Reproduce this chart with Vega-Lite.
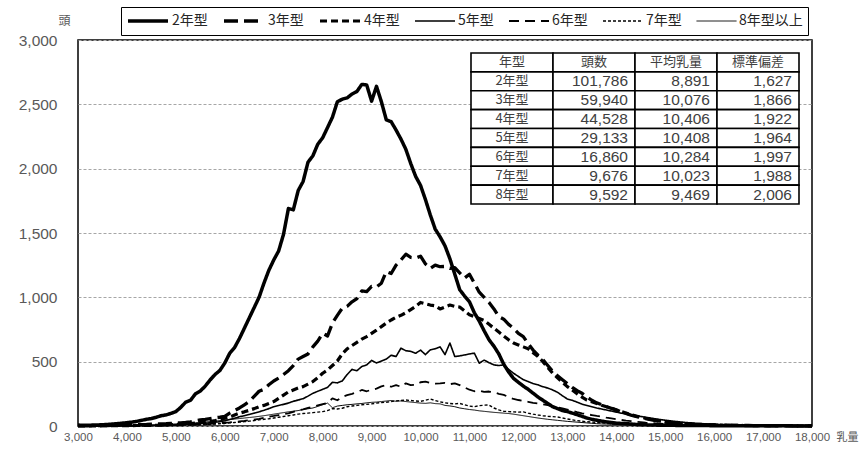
{
"$schema": "https://vega.github.io/schema/vega-lite/v6.json",
"width": 734, "height": 386,
"autosize": {"type": "none"},
"padding": {"left": 78, "top": 40, "right": 49, "bottom": 23},
"background": "white",
"config": {"view": {"stroke": "#000", "strokeWidth": 1.5}, "font": "Noto Sans CJK JP"},
"datasets": {
"curves": [
{"乳量":3000,"2年型":8,"3年型":2,"4年型":1,"5年型":1,"6年型":0,"7年型":0,"8年型以上":1},
{"乳量":3100,"2年型":5,"3年型":2,"4年型":1,"5年型":0,"6年型":0,"7年型":0,"8年型以上":1},
{"乳量":3200,"2年型":6,"3年型":2,"4年型":1,"5年型":1,"6年型":0,"7年型":0,"8年型以上":1},
{"乳量":3300,"2年型":7,"3年型":3,"4年型":1,"5年型":1,"6年型":1,"7年型":0,"8年型以上":1},
{"乳量":3400,"2年型":8,"3年型":3,"4年型":1,"5年型":1,"6年型":1,"7年型":0,"8年型以上":2},
{"乳量":3500,"2年型":10,"3年型":4,"4年型":2,"5年型":1,"6年型":1,"7年型":1,"8年型以上":2},
{"乳量":3600,"2年型":12,"3年型":4,"4年型":2,"5年型":2,"6年型":1,"7年型":1,"8年型以上":2},
{"乳量":3700,"2年型":15,"3年型":5,"4年型":2,"5年型":2,"6年型":1,"7年型":1,"8年型以上":3},
{"乳量":3800,"2年型":18,"3年型":6,"4年型":2,"5年型":2,"6年型":1,"7年型":1,"8年型以上":3},
{"乳量":3900,"2年型":22,"3年型":7,"4年型":3,"5年型":3,"6年型":2,"7年型":1,"8年型以上":4},
{"乳量":4000,"2年型":26,"3年型":8,"4年型":3,"5年型":3,"6年型":2,"7年型":2,"8年型以上":4},
{"乳量":4100,"2年型":30,"3年型":9,"4年型":3,"5年型":3,"6年型":2,"7年型":2,"8年型以上":5},
{"乳量":4200,"2年型":36,"3年型":10,"4年型":4,"5年型":4,"6年型":2,"7年型":2,"8年型以上":5},
{"乳量":4300,"2年型":44,"3年型":11,"4年型":4,"5年型":4,"6年型":3,"7年型":2,"8年型以上":6},
{"乳量":4400,"2年型":52,"3年型":12,"4年型":5,"5年型":5,"6年型":3,"7年型":3,"8年型以上":7},
{"乳量":4500,"2年型":58,"3年型":14,"4年型":5,"5年型":5,"6年型":3,"7年型":3,"8年型以上":8},
{"乳量":4600,"2年型":68,"3年型":16,"4年型":6,"5年型":6,"6年型":4,"7年型":3,"8年型以上":9},
{"乳量":4700,"2年型":80,"3年型":17,"4年型":7,"5年型":7,"6年型":4,"7年型":4,"8年型以上":10},
{"乳量":4800,"2年型":86,"3年型":18,"4年型":8,"5年型":7,"6年型":4,"7年型":4,"8年型以上":12},
{"乳量":4900,"2年型":98,"3年型":20,"4年型":10,"5年型":8,"6年型":5,"7年型":5,"8年型以上":14},
{"乳量":5000,"2年型":112,"3年型":22,"4年型":12,"5年型":9,"6年型":5,"7年型":6,"8年型以上":16},
{"乳量":5100,"2年型":145,"3年型":25,"4年型":14,"5年型":11,"6年型":6,"7年型":6,"8年型以上":18},
{"乳量":5200,"2年型":185,"3年型":28,"4年型":16,"5年型":13,"6年型":7,"7年型":7,"8年型以上":20},
{"乳量":5300,"2年型":200,"3年型":32,"4年型":19,"5年型":15,"6年型":8,"7年型":8,"8年型以上":22},
{"乳量":5400,"2年型":250,"3年型":40,"4年型":22,"5年型":17,"6年型":10,"7年型":9,"8年型以上":25},
{"乳量":5500,"2年型":272,"3年型":47,"4年型":26,"5年型":19,"6年型":12,"7年型":10,"8年型以上":28},
{"乳量":5600,"2年型":310,"3年型":52,"4年型":30,"5年型":22,"6年型":14,"7年型":12,"8年型以上":31},
{"乳量":5700,"2年型":358,"3年型":58,"4年型":35,"5年型":25,"6年型":16,"7年型":14,"8年型以上":34},
{"乳量":5800,"2年型":400,"3年型":64,"4年型":42,"5年型":29,"6年型":19,"7年型":16,"8年型以上":38},
{"乳量":5900,"2年型":432,"3年型":68,"4年型":50,"5年型":33,"6年型":22,"7年型":18,"8年型以上":42},
{"乳量":6000,"2年型":490,"3年型":74,"4年型":60,"5年型":40,"6年型":25,"7年型":20,"8年型以上":46},
{"乳量":6100,"2年型":565,"3年型":100,"4年型":70,"5年型":50,"6年型":28,"7年型":24,"8年型以上":50},
{"乳量":6200,"2年型":610,"3年型":120,"4年型":85,"5年型":60,"6年型":32,"7年型":27,"8年型以上":54},
{"乳量":6300,"2年型":680,"3年型":140,"4年型":100,"5年型":72,"6年型":36,"7年型":30,"8年型以上":58},
{"乳量":6400,"2年型":760,"3年型":165,"4年型":110,"5年型":80,"6年型":40,"7年型":34,"8年型以上":62},
{"乳量":6500,"2年型":840,"3年型":190,"4年型":122,"5年型":90,"6年型":45,"7年型":38,"8年型以上":66},
{"乳量":6600,"2年型":920,"3年型":230,"4年型":135,"5年型":100,"6年型":50,"7年型":42,"8年型以上":70},
{"乳量":6700,"2年型":1000,"3年型":270,"4年型":150,"5年型":110,"6年型":56,"7年型":48,"8年型以上":75},
{"乳量":6800,"2年型":1110,"3年型":285,"4年型":160,"5年型":122,"6年型":63,"7年型":52,"8年型以上":80},
{"乳量":6900,"2年型":1210,"3年型":320,"4年型":175,"5年型":135,"6年型":72,"7年型":56,"8年型以上":86},
{"乳量":7000,"2年型":1290,"3年型":350,"4年型":190,"5年型":150,"6年型":78,"7年型":62,"8年型以上":92},
{"乳量":7100,"2年型":1360,"3年型":372,"4年型":215,"5年型":160,"6年型":85,"7年型":68,"8年型以上":98},
{"乳量":7200,"2年型":1490,"3年型":400,"4年型":240,"5年型":168,"6年型":92,"7年型":74,"8年型以上":104},
{"乳量":7300,"2年型":1690,"3年型":430,"4年型":265,"5年型":178,"6年型":99,"7年型":80,"8年型以上":110},
{"乳量":7400,"2年型":1680,"3年型":470,"4年型":280,"5年型":192,"6年型":110,"7年型":86,"8年型以上":115},
{"乳量":7500,"2年型":1830,"3年型":520,"4年型":295,"5年型":202,"6年型":122,"7年型":92,"8年型以上":120},
{"乳量":7600,"2年型":1900,"3年型":540,"4年型":306,"5年型":212,"6年型":130,"7年型":97,"8年型以上":128},
{"乳量":7700,"2年型":2050,"3年型":560,"4年型":325,"5年型":232,"6年型":140,"7年型":100,"8年型以上":134},
{"乳量":7800,"2年型":2100,"3年型":615,"4年型":345,"5年型":254,"6年型":150,"7年型":104,"8年型以上":140},
{"乳量":7900,"2年型":2190,"3年型":660,"4年型":375,"5年型":270,"6年型":160,"7年型":108,"8年型以上":152},
{"乳量":8000,"2年型":2240,"3年型":720,"4年型":410,"5年型":285,"6年型":170,"7年型":112,"8年型以上":165},
{"乳量":8100,"2年型":2320,"3年型":700,"4年型":435,"5年型":300,"6年型":180,"7年型":120,"8年型以上":178},
{"乳量":8200,"2年型":2400,"3年型":800,"4年型":470,"5年型":340,"6年型":215,"7年型":135,"8年型以上":142},
{"乳量":8300,"2年型":2520,"3年型":860,"4年型":505,"5年型":335,"6年型":200,"7年型":132,"8年型以上":155},
{"乳量":8400,"2年型":2540,"3年型":915,"4年型":560,"5年型":350,"6年型":225,"7年型":138,"8年型以上":160},
{"乳量":8500,"2年型":2550,"3年型":930,"4年型":600,"5年型":400,"6年型":240,"7年型":150,"8年型以上":165},
{"乳量":8600,"2年型":2580,"3年型":965,"4年型":625,"5年型":440,"6年型":250,"7年型":155,"8年型以上":168},
{"乳量":8700,"2年型":2600,"3年型":990,"4年型":650,"5年型":430,"6年型":262,"7年型":160,"8年型以上":172},
{"乳量":8800,"2年型":2655,"3年型":1050,"4年型":675,"5年型":462,"6年型":280,"7年型":165,"8年型以上":175},
{"乳量":8900,"2年型":2650,"3年型":1045,"4年型":695,"5年型":475,"6年型":270,"7年型":168,"8年型以上":180},
{"乳量":9000,"2年型":2525,"3年型":1085,"4年型":720,"5年型":510,"6年型":282,"7年型":172,"8年型以上":184},
{"乳量":9100,"2年型":2640,"3年型":1080,"4年型":745,"5年型":490,"6年型":290,"7年型":178,"8年型以上":186},
{"乳量":9200,"2年型":2520,"3年型":1110,"4年型":772,"5年型":505,"6年型":308,"7年型":182,"8年型以上":190},
{"乳量":9300,"2年型":2380,"3年型":1200,"4年型":800,"5年型":520,"6年型":318,"7年型":185,"8年型以上":194},
{"乳量":9400,"2年型":2365,"3年型":1185,"4年型":824,"5年型":550,"6年型":305,"7年型":190,"8年型以上":198},
{"乳量":9500,"2年型":2300,"3年型":1250,"4年型":845,"5年型":540,"6年型":318,"7年型":195,"8年型以上":192},
{"乳量":9600,"2年型":2230,"3年型":1290,"4年型":860,"5年型":605,"6年型":305,"7年型":198,"8年型以上":195},
{"乳量":9700,"2年型":2150,"3年型":1335,"4年型":880,"5年型":585,"6年型":332,"7年型":202,"8年型以上":190},
{"乳量":9800,"2年型":2040,"3年型":1310,"4年型":905,"5年型":580,"6年型":318,"7年型":198,"8年型以上":186},
{"乳量":9900,"2年型":1940,"3年型":1305,"4年型":930,"5年型":565,"6年型":320,"7年型":194,"8年型以上":182},
{"乳量":10000,"2年型":1870,"3年型":1320,"4年型":960,"5年型":590,"6年型":340,"7年型":192,"8年型以上":178},
{"乳量":10100,"2年型":1760,"3年型":1260,"4年型":950,"5年型":555,"6年型":345,"7年型":200,"8年型以上":176},
{"乳量":10200,"2年型":1640,"3年型":1225,"4年型":940,"5年型":592,"6年型":335,"7年型":210,"8年型以上":180},
{"乳量":10300,"2年型":1530,"3年型":1250,"4年型":935,"5年型":600,"6年型":330,"7年型":198,"8年型以上":174},
{"乳量":10400,"2年型":1470,"3年型":1238,"4年型":910,"5年型":615,"6年型":332,"7年型":188,"8年型以上":172},
{"乳量":10500,"2年型":1400,"3年型":1240,"4年型":925,"5年型":555,"6年型":335,"7年型":180,"8年型以上":160},
{"乳量":10600,"2年型":1300,"3年型":1225,"4年型":940,"5年型":645,"6年型":325,"7年型":175,"8年型以上":156},
{"乳量":10700,"2年型":1180,"3年型":1230,"4年型":930,"5年型":540,"6年型":332,"7年型":172,"8年型以上":150},
{"乳量":10800,"2年型":1060,"3年型":1190,"4年型":925,"5年型":545,"6年型":318,"7年型":176,"8年型以上":140},
{"乳量":10900,"2年型":1010,"3年型":1150,"4年型":895,"5年型":552,"6年型":300,"7年型":165,"8年型以上":134},
{"乳量":11000,"2年型":965,"3年型":1180,"4年型":865,"5年型":560,"6年型":282,"7年型":155,"8年型以上":128},
{"乳量":11100,"2年型":880,"3年型":1110,"4年型":850,"5年型":566,"6年型":270,"7年型":150,"8年型以上":124},
{"乳量":11200,"2年型":815,"3年型":1040,"4年型":835,"5年型":488,"6年型":275,"7年型":158,"8年型以上":118},
{"乳量":11300,"2年型":740,"3年型":1000,"4年型":820,"5年型":512,"6年型":265,"7年型":162,"8年型以上":114},
{"乳量":11400,"2年型":670,"3年型":960,"4年型":790,"5年型":492,"6年型":268,"7年型":163,"8年型以上":110},
{"乳量":11500,"2年型":620,"3年型":910,"4年型":760,"5年型":475,"6年型":262,"7年型":140,"8年型以上":106},
{"乳量":11600,"2年型":560,"3年型":850,"4年型":730,"5年型":470,"6年型":250,"7年型":125,"8年型以上":103},
{"乳量":11700,"2年型":480,"3年型":830,"4年型":700,"5年型":475,"6年型":242,"7年型":115,"8年型以上":100},
{"乳量":11800,"2年型":420,"3年型":790,"4年型":670,"5年型":440,"6年型":225,"7年型":112,"8年型以上":97},
{"乳量":11900,"2年型":370,"3年型":760,"4年型":645,"5年型":410,"6年型":210,"7年型":110,"8年型以上":92},
{"乳量":12000,"2年型":340,"3年型":720,"4年型":630,"5年型":385,"6年型":202,"7年型":108,"8年型以上":86},
{"乳量":12100,"2年型":310,"3年型":695,"4年型":615,"5年型":360,"6年型":195,"7年型":110,"8年型以上":80},
{"乳量":12200,"2年型":285,"3年型":640,"4年型":600,"5年型":345,"6年型":188,"7年型":100,"8年型以上":74},
{"乳量":12300,"2年型":255,"3年型":590,"4年型":570,"5年型":330,"6年型":180,"7年型":92,"8年型以上":68},
{"乳量":12400,"2年型":225,"3年型":550,"4年型":540,"5年型":320,"6年型":175,"7年型":85,"8年型以上":62},
{"乳量":12500,"2年型":200,"3年型":515,"4年型":500,"5年型":305,"6年型":168,"7年型":80,"8年型以上":57},
{"乳量":12600,"2年型":175,"3年型":470,"4年型":455,"5年型":295,"6年型":162,"7年型":76,"8年型以上":52},
{"乳量":12700,"2年型":150,"3年型":425,"4年型":410,"5年型":280,"6年型":152,"7年型":73,"8年型以上":48},
{"乳量":12800,"2年型":135,"3年型":390,"4年型":375,"5年型":262,"6年型":145,"7年型":70,"8年型以上":44},
{"乳量":12900,"2年型":120,"3年型":360,"4年型":340,"5年型":235,"6年型":137,"7年型":62,"8年型以上":40},
{"乳量":13000,"2年型":112,"3年型":330,"4年型":306,"5年型":210,"6年型":128,"7年型":55,"8年型以上":36},
{"乳量":13100,"2年型":100,"3年型":300,"4年型":280,"5年型":200,"6年型":118,"7年型":48,"8年型以上":33},
{"乳量":13200,"2年型":88,"3年型":275,"4年型":250,"5年型":185,"6年型":108,"7年型":42,"8年型以上":30},
{"乳量":13300,"2年型":75,"3年型":255,"4年型":225,"5年型":170,"6年型":99,"7年型":37,"8年型以上":27},
{"乳量":13400,"2年型":62,"3年型":225,"4年型":202,"5年型":160,"6年型":92,"7年型":33,"8年型以上":24},
{"乳量":13500,"2年型":52,"3年型":200,"4年型":188,"5年型":150,"6年型":85,"7年型":30,"8年型以上":21},
{"乳量":13600,"2年型":45,"3年型":180,"4年型":175,"5年型":140,"6年型":78,"7年型":27,"8年型以上":18},
{"乳量":13700,"2年型":38,"3年型":165,"4年型":162,"5年型":132,"6年型":72,"7年型":25,"8年型以上":16},
{"乳量":13800,"2年型":32,"3年型":150,"4年型":150,"5年型":124,"6年型":65,"7年型":22,"8年型以上":15},
{"乳量":13900,"2年型":27,"3年型":137,"4年型":138,"5年型":116,"6年型":59,"7年型":20,"8年型以上":13},
{"乳量":14000,"2年型":22,"3年型":125,"4年型":125,"5年型":108,"6年型":53,"7年型":18,"8年型以上":12},
{"乳量":14100,"2年型":20,"3年型":110,"4年型":112,"5年型":100,"6年型":47,"7年型":16,"8年型以上":10},
{"乳量":14200,"2年型":18,"3年型":97,"4年型":100,"5年型":93,"6年型":42,"7年型":14,"8年型以上":9},
{"乳量":14300,"2年型":16,"3年型":85,"4年型":88,"5年型":86,"6年型":38,"7年型":13,"8年型以上":8},
{"乳量":14400,"2年型":12,"3年型":75,"4年型":78,"5年型":80,"6年型":34,"7年型":12,"8年型以上":7},
{"乳量":14500,"2年型":10,"3年型":65,"4年型":68,"5年型":74,"6年型":30,"7年型":11,"8年型以上":6},
{"乳量":14600,"2年型":9,"3年型":57,"4年型":60,"5年型":68,"6年型":26,"7年型":10,"8年型以上":6},
{"乳量":14700,"2年型":8,"3年型":50,"4年型":52,"5年型":62,"6年型":23,"7年型":9,"8年型以上":5},
{"乳量":14800,"2年型":7,"3年型":42,"4年型":45,"5年型":56,"6年型":20,"7年型":8,"8年型以上":5},
{"乳量":14900,"2年型":6,"3年型":36,"4年型":38,"5年型":50,"6年型":18,"7年型":7,"8年型以上":4},
{"乳量":15000,"2年型":6,"3年型":30,"4年型":32,"5年型":45,"6年型":16,"7年型":7,"8年型以上":4},
{"乳量":15100,"2年型":5,"3年型":26,"4年型":28,"5年型":40,"6年型":14,"7年型":6,"8年型以上":3},
{"乳量":15200,"2年型":5,"3年型":22,"4年型":24,"5年型":36,"6年型":12,"7年型":5,"8年型以上":3},
{"乳量":15300,"2年型":4,"3年型":19,"4年型":20,"5年型":32,"6年型":10,"7年型":5,"8年型以上":3},
{"乳量":15400,"2年型":4,"3年型":16,"4年型":18,"5年型":28,"6年型":9,"7年型":4,"8年型以上":2},
{"乳量":15500,"2年型":4,"3年型":14,"4年型":15,"5年型":25,"6年型":8,"7年型":4,"8年型以上":2},
{"乳量":15600,"2年型":3,"3年型":12,"4年型":13,"5年型":22,"6年型":7,"7年型":3,"8年型以上":2},
{"乳量":15700,"2年型":3,"3年型":11,"4年型":12,"5年型":19,"6年型":6,"7年型":3,"8年型以上":2},
{"乳量":15800,"2年型":3,"3年型":10,"4年型":10,"5年型":17,"6年型":5,"7年型":3,"8年型以上":1},
{"乳量":15900,"2年型":3,"3年型":9,"4年型":9,"5年型":15,"6年型":4,"7年型":2,"8年型以上":1},
{"乳量":16000,"2年型":2,"3年型":8,"4年型":8,"5年型":13,"6年型":4,"7年型":2,"8年型以上":1},
{"乳量":16100,"2年型":2,"3年型":7,"4年型":7,"5年型":11,"6年型":3,"7年型":2,"8年型以上":1},
{"乳量":16200,"2年型":2,"3年型":6,"4年型":6,"5年型":10,"6年型":3,"7年型":2,"8年型以上":1},
{"乳量":16300,"2年型":2,"3年型":6,"4年型":6,"5年型":9,"6年型":3,"7年型":1,"8年型以上":1},
{"乳量":16400,"2年型":2,"3年型":5,"4年型":5,"5年型":8,"6年型":2,"7年型":1,"8年型以上":1},
{"乳量":16500,"2年型":2,"3年型":5,"4年型":5,"5年型":7,"6年型":2,"7年型":1,"8年型以上":1},
{"乳量":16600,"2年型":1,"3年型":4,"4年型":4,"5年型":6,"6年型":2,"7年型":1,"8年型以上":0},
{"乳量":16700,"2年型":1,"3年型":4,"4年型":4,"5年型":5,"6年型":2,"7年型":1,"8年型以上":0},
{"乳量":16800,"2年型":1,"3年型":3,"4年型":3,"5年型":5,"6年型":2,"7年型":1,"8年型以上":0},
{"乳量":16900,"2年型":1,"3年型":3,"4年型":3,"5年型":4,"6年型":1,"7年型":1,"8年型以上":0},
{"乳量":17000,"2年型":1,"3年型":3,"4年型":3,"5年型":4,"6年型":1,"7年型":1,"8年型以上":0},
{"乳量":17100,"2年型":1,"3年型":2,"4年型":2,"5年型":3,"6年型":1,"7年型":0,"8年型以上":0},
{"乳量":17200,"2年型":1,"3年型":2,"4年型":2,"5年型":3,"6年型":1,"7年型":0,"8年型以上":0},
{"乳量":17300,"2年型":1,"3年型":2,"4年型":2,"5年型":3,"6年型":1,"7年型":0,"8年型以上":0},
{"乳量":17400,"2年型":1,"3年型":2,"4年型":2,"5年型":2,"6年型":1,"7年型":0,"8年型以上":0},
{"乳量":17500,"2年型":1,"3年型":2,"4年型":2,"5年型":2,"6年型":1,"7年型":0,"8年型以上":0},
{"乳量":17600,"2年型":1,"3年型":1,"4年型":1,"5年型":2,"6年型":1,"7年型":0,"8年型以上":0},
{"乳量":17700,"2年型":0,"3年型":1,"4年型":1,"5年型":2,"6年型":0,"7年型":0,"8年型以上":0},
{"乳量":17800,"2年型":0,"3年型":1,"4年型":1,"5年型":1,"6年型":0,"7年型":0,"8年型以上":0},
{"乳量":17900,"2年型":0,"3年型":1,"4年型":1,"5年型":1,"6年型":0,"7年型":0,"8年型以上":0},
{"乳量":18000,"2年型":0,"3年型":1,"4年型":1,"5年型":1,"6年型":0,"7年型":0,"8年型以上":0}
],
"table": [
{"年型":"2年型","頭数":101786,"平均乳量":8891,"標準偏差":1627},
{"年型":"3年型","頭数":59940,"平均乳量":10076,"標準偏差":1866},
{"年型":"4年型","頭数":44528,"平均乳量":10406,"標準偏差":1922},
{"年型":"5年型","頭数":29133,"平均乳量":10408,"標準偏差":1964},
{"年型":"6年型","頭数":16860,"平均乳量":10284,"標準偏差":1997},
{"年型":"7年型","頭数":9676,"平均乳量":10023,"標準偏差":1988},
{"年型":"8年型","頭数":9592,"平均乳量":9469,"標準偏差":2006}
],
"header": [{"列":"年型"},{"列":"頭数"},{"列":"平均乳量"},{"列":"標準偏差"}]
},
"layer": [
{
"data": {"name": "curves"},
"transform": [{"fold": ["2年型","3年型","4年型","5年型","6年型","7年型","8年型以上"], "as": ["年型","頭"]}],
"mark": {"type": "line", "color": "#000", "strokeJoin": "round", "strokeCap": "butt"},
"encoding": {
"x": {"field": "乳量", "type": "quantitative",
"scale": {"domain": [3000, 18000], "nice": false, "zero": false},
"axis": {"values": [3000,4000,5000,6000,7000,8000,9000,10000,11000,12000,13000,14000,15000,16000,17000,18000],
"format": ",d", "grid": false, "ticks": false, "domain": false, "labelFlush": false, "labelOverlap": false,
"labelFont": "Liberation Sans", "labelFontSize": 11.5, "labelColor": "#595959", "labelPadding": 5,
"title": "乳量", "titleX": 758, "titleY": 11, "titleAlign": "left", "titleBaseline": "middle",
"titleFont": "Noto Sans CJK JP", "titleFontSize": 11, "titleFontWeight": "normal", "titleColor": "#595959"}},
"y": {"field": "頭", "type": "quantitative",
"scale": {"domain": [0, 3000], "nice": false},
"axis": {"values": [0,500,1000,1500,2000,2500,3000], "format": ",d", "grid": true, "gridColor": "#a6a6a6",
"gridDash": [3, 2], "gridWidth": 1, "ticks": false, "domain": false,
"labelFont": "Liberation Sans", "labelFontSize": 15.5, "labelColor": "#595959", "labelPadding": 21,
"title": "頭", "titleAngle": 0, "titleX": -14, "titleY": -20, "titleAlign": "center", "titleBaseline": "middle",
"titleFont": "Noto Sans CJK JP", "titleFontSize": 12, "titleFontWeight": "normal", "titleColor": "#595959"}},
"strokeDash": {"field": "年型", "type": "nominal",
"scale": {"domain": ["2年型","3年型","4年型","5年型","6年型","7年型","8年型以上"],
"range": [[1,0],[14,6],[7,4],[1,0],[10,6],[3,2],[1,0]]},
"legend": {"title": null, "orient": "none", "legendX": 43, "legendY": -33, "direction": "horizontal",
"symbolType": "stroke", "symbolSize": 1600, "clipHeight": 18, "labelFont": "Noto Sans CJK JP",
"labelFontSize": 14, "labelColor": "#262626", "labelOffset": 2, "columnPadding": 14, "padding": 5,
"strokeColor": "#000", "symbolStrokeColor": "#000"}},
"strokeWidth": {"field": "年型", "type": "nominal",
"scale": {"type": "ordinal", "domain": ["2年型","3年型","4年型","5年型","6年型","7年型","8年型以上"],
"range": [3.5, 3.3, 3.2, 1.6, 1.8, 1.4, 1]},
"legend": {"title": null, "orient": "none", "legendX": 43, "legendY": -33, "direction": "horizontal",
"symbolType": "stroke", "symbolSize": 1600, "clipHeight": 18, "labelFont": "Noto Sans CJK JP",
"labelFontSize": 14, "labelColor": "#262626", "labelOffset": 2, "columnPadding": 14, "padding": 5,
"strokeColor": "#000", "symbolStrokeColor": "#000"}}
}
},
{
"layer": [
{
"data": {"name": "header"},
"mark": {"type": "rect", "fill": "#fff", "stroke": "#000", "strokeWidth": 1.6},
"encoding": {
"x": {"field": "列", "type": "nominal", "scale": {"type": "band", "domain": ["年型","頭数","平均乳量","標準偏差"], "range": [393, 721], "paddingInner": 0, "paddingOuter": 0}, "axis": null},
"y": {"datum": "年型", "type": "nominal", "scale": {"type": "band", "domain": ["年型","2年型","3年型","4年型","5年型","6年型","7年型","8年型"], "range": [13, 164], "paddingInner": 0, "paddingOuter": 0}, "axis": null}
}
},
{
"data": {"name": "header"},
"mark": {"type": "text", "font": "Noto Sans CJK JP", "fontSize": 13, "color": "#404040"},
"encoding": {
"x": {"field": "列", "type": "nominal", "axis": null},
"y": {"datum": "年型", "type": "nominal", "axis": null},
"text": {"field": "列", "type": "nominal"}
}
},
{
"data": {"name": "table"},
"mark": {"type": "rect", "fill": "#fff", "stroke": "#000", "strokeWidth": 1.6},
"encoding": {
"x": {"datum": "年型", "type": "nominal", "axis": null},
"y": {"field": "年型", "type": "nominal", "axis": null}
}
},
{
"data": {"name": "table"},
"mark": {"type": "text", "font": "Noto Sans CJK JP", "fontSize": 13, "color": "#404040"},
"encoding": {
"x": {"datum": "年型", "type": "nominal", "axis": null},
"y": {"field": "年型", "type": "nominal", "axis": null},
"text": {"field": "年型", "type": "nominal"}
}
},
{
"data": {"name": "table"},
"transform": [{"fold": ["頭数","平均乳量","標準偏差"], "as": ["列","値"]}],
"layer": [
{
"mark": {"type": "rect", "fill": "#fff", "stroke": "#000", "strokeWidth": 1.6},
"encoding": {
"x": {"field": "列", "type": "nominal", "axis": null},
"y": {"field": "年型", "type": "nominal", "axis": null}
}
},
{
"mark": {"type": "text", "font": "Liberation Sans", "fontSize": 15.5, "color": "#404040", "align": "right", "dx": -7},
"encoding": {
"x": {"field": "列", "type": "nominal", "bandPosition": 1, "axis": null},
"y": {"field": "年型", "type": "nominal", "axis": null},
"text": {"field": "値", "type": "quantitative", "format": ","}
}
}
]
}
]
}
],
"resolve": {"scale": {"x": "independent", "y": "independent"}}
}
